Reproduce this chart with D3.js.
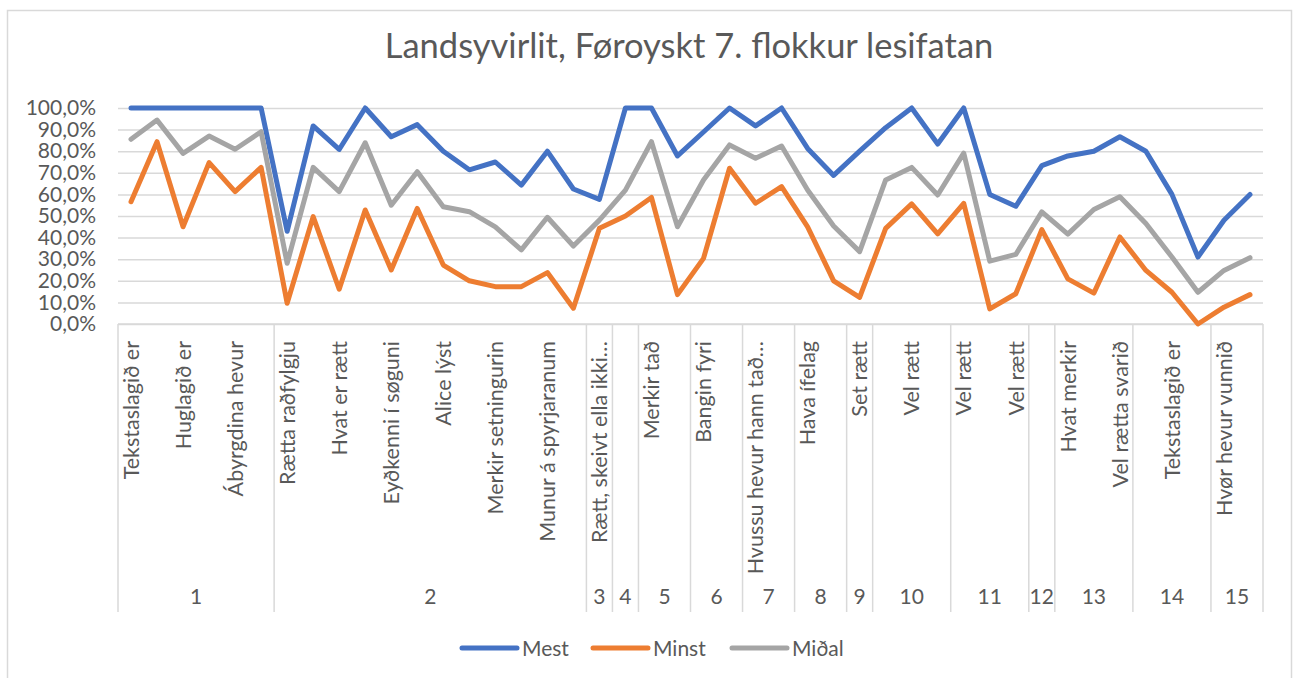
<!DOCTYPE html>
<html lang="fo">
<head>
<meta charset="utf-8">
<title>Landsyvirlit</title>
<script src="https://cdn.jsdelivr.net/npm/d3@7/dist/d3.min.js"></script>
<style>
  body { margin: 0; background: #fff; }
  svg text { font-family: Lato, "Open Sans", sans-serif; fill: #595959; }
</style>
</head>
<body>
<svg id="chart" width="1293" height="678"></svg>
<script>
// question labels (Excel only shows every other one)
var labels = [
  "Tekstaslagið er", "", "Huglagið er", "", "Ábyrgdina hevur", "",
  "Rætta raðfylgju", "", "Hvat er rætt", "", "Eyðkenni í søguni", "", "Alice lýst", "",
  "Merkir setningurin", "", "Munur á spyrjaranum", "",
  "Rætt, skeivt ella ikki…", "",
  "Merkir tað", "", "Bangin fyri", "", "Hvussu hevur hann tað…", "", "Hava ífelag", "",
  "Set rætt", "", "Vel rætt", "", "Vel rætt", "", "Vel rætt", "",
  "Hvat merkir", "", "Vel rætta svarið", "", "Tekstaslagið er", "", "Hvør hevur vunnið", ""
];

// text groups and how many questions each has
var groupNames = ["1","2","3","4","5","6","7","8","9","10","11","12","13","14","15"];
var groupSizes = [6, 12, 1, 1, 2, 2, 2, 2, 1, 3, 3, 1, 3, 3, 2];

// percent values
var mest = [100,100,100,100,100,100, 42.9,91.7,80.8,100,86.7,92.3,80,71.4,75,64.3,80,62.5,
  57.7, 100, 100,77.8, 88.9,100, 91.7,100, 81.3,68.8, 80, 90.9,100,83.3, 100,60,54.5,
  73.3, 77.8,80,86.7, 80,60,31, 48,60];
var minst = [56.6,84.4,45,74.7,61.3,72.5, 9.6,49.7,16.1,52.8,25,53.5,27.3,20,17.3,17.3,23.8,7.3,
  44.3, 50, 58.6,13.6, 30.4,72.1, 55.9,63.6, 45,20, 12.3, 44.3,55.6,41.7, 55.8,7,14,
  43.7, 20.9,14.3,40.3, 24.8,14.7,0, 7.8,13.6];
var midal = [85.5,94.4,79,87,80.9,89, 28.1,72.5,61.3,83.9,55,70.5,54.3,52,45,34.3,49.4,36.1,
  48.1, 62, 84.4,45, 66.7,82.9, 76.7,82.4, 62,45.4, 33.5, 66.7,72.5,59.7, 79.1,29.1,32.2,
  51.9, 41.6,53,58.9, 46.5,31,14.7, 24.8,30.7];

var yTicks = [0,10,20,30,40,50,60,70,80,90,100];

var series = [
  {name: "Mest",  values: mest,  color: "#4472C4"},
  {name: "Minst", values: minst, color: "#ED7D31"},
  {name: "Miðal", values: midal, color: "#A5A5A5"}
];

function draw() {
  var svg = d3.select("#chart");
  var plotLeft = 118, plotRight = 1263, plotTop = 108, plotBottom = 324;

  // chart border
  svg.append("rect")
    .attr("x", 7.5).attr("y", 10.5)
    .attr("width", 1284).attr("height", 700)
    .attr("fill", "none").attr("stroke", "#D9D9D9").attr("stroke-width", 1.5);

  svg.append("text")
    .attr("x", 689).attr("y", 58)
    .attr("text-anchor", "middle")
    .style("font-size", "34.5px")
    .text("Landsyvirlit, Føroyskt 7. flokkur lesifatan");

  var x = d3.scaleBand()
    .domain(d3.range(labels.length))
    .range([plotLeft, plotRight]);

  var y = d3.scaleLinear()
    .domain([0, 100])
    .range([plotBottom, plotTop]);

  var locale = d3.formatLocale({decimal: ",", thousands: ".", grouping: [3], currency: ["", " kr"]});
  var pct = locale.format(".1f");

  // gridlines + y labels
  var yAxis = svg.append("g")
    .attr("transform", "translate(" + plotLeft + ",0)")
    .call(d3.axisLeft(y).tickValues(yTicks).tickSize(-(plotRight - plotLeft)).tickPadding(22)
      .tickFormat(function(d) { return pct(d) + "%"; }));
  yAxis.select(".domain").remove();
  yAxis.selectAll(".tick line").attr("stroke", "#D9D9D9").attr("stroke-width", 1.5);
  yAxis.selectAll(".tick text")
    .attr("fill", "#595959")
    .style("font-family", "Lato, sans-serif")
    .style("font-size", "21px");

  // category axis: baseline and group separators
  svg.append("line")
    .attr("x1", plotLeft).attr("x2", plotRight)
    .attr("y1", plotBottom).attr("y2", plotBottom)
    .attr("stroke", "#D9D9D9").attr("stroke-width", 1.5);

  var groups = [];
  var start = 0;
  groupSizes.forEach(function(n, i) {
    groups.push({name: groupNames[i], first: start, last: start + n - 1});
    start += n;
  });

  var bounds = [x(0)].concat(groups.map(function(g) { return x(g.last) + x.bandwidth(); }));
  svg.append("g").selectAll("line")
    .data(bounds)
    .enter().append("line")
    .attr("x1", function(d) { return d; })
    .attr("x2", function(d) { return d; })
    .attr("y1", plotBottom).attr("y2", 612)
    .attr("stroke", "#D9D9D9").attr("stroke-width", 1.5);

  svg.append("g").selectAll("text")
    .data(labels)
    .enter().append("text")
    .attr("transform", function(d, i) {
      return "translate(" + (x(i) + x.bandwidth() / 2) + ",341) rotate(-90)";
    })
    .attr("text-anchor", "end")
    .attr("dy", "0.36em")
    .style("font-size", "21.5px")
    .text(function(d) { return d; });

  svg.append("g").selectAll("text")
    .data(groups)
    .enter().append("text")
    .attr("x", function(g) { return (x(g.first) + x(g.last) + x.bandwidth()) / 2; })
    .attr("y", 604)
    .attr("text-anchor", "middle")
    .style("font-size", "21px")
    .text(function(g) { return g.name; });

  // lines
  var line = d3.line()
    .x(function(d, i) { return x(i) + x.bandwidth() / 2; })
    .y(function(d) { return y(d); });

  svg.append("g").selectAll("path")
    .data(series)
    .enter().append("path")
    .attr("d", function(s) { return line(s.values); })
    .attr("fill", "none")
    .attr("stroke", function(s) { return s.color; })
    .attr("stroke-width", 5)
    .attr("stroke-linejoin", "round")
    .attr("stroke-linecap", "round");

  // legend
  var legendX = [462, 593, 732];
  var lg = svg.append("g").selectAll("g")
    .data(series)
    .enter().append("g")
    .attr("transform", function(s, i) { return "translate(" + legendX[i] + ",648)"; });
  lg.append("line")
    .attr("x1", 0).attr("x2", 55)
    .attr("stroke", function(s) { return s.color; })
    .attr("stroke-width", 5)
    .attr("stroke-linecap", "round");
  lg.append("text")
    .attr("x", 60).attr("dy", "0.36em")
    .style("font-size", "21px")
    .text(function(s) { return s.name; });
}

draw();
</script>
</body>
</html>
